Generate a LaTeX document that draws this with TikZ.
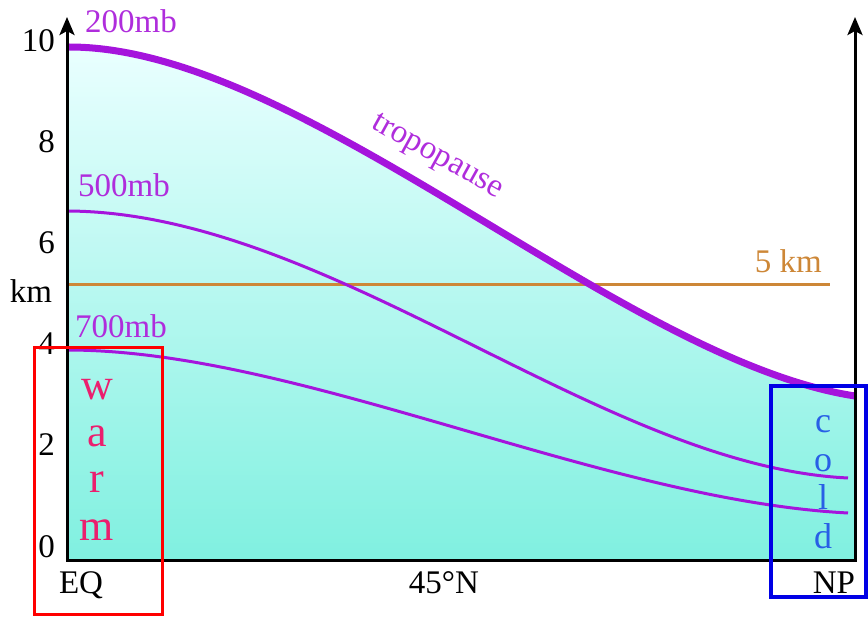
\documentclass[tikz,border=0pt]{standalone}
\usepackage{fontspec}
\setmainfont{Liberation Serif}
\usetikzlibrary{positioning,arrows.meta}
\definecolor{mbViolet}{RGB}{165,20,220}
\definecolor{mbText}{RGB}{175,45,220}
\definecolor{kmOrange}{RGB}{205,135,55}
\definecolor{warmPink}{RGB}{235,30,110}
\definecolor{coldBlue}{RGB}{40,95,230}
\definecolor{airLow}{RGB}{128,240,224}
\definecolor{airMid}{RGB}{196,252,248}
\definecolor{airHigh}{RGB}{234,255,255}

\begin{document}
\begin{tikzpicture}[x=1pt, y=-1pt,
        axisline/.style={line width=3pt},
        axisarrow/.style={line width=3pt, -{Stealth[length=18pt, width=15pt, inset=4pt]}},
        isobar/.style={draw=mbViolet, line width=3pt},
        tropo/.style={draw=mbViolet, line width=7pt},
        lbl/.style={font=\fontsize{33}{36}\selectfont, inner sep=0pt},
        tick/.style={lbl, anchor=base east},
        mblbl/.style={lbl, text=mbText, anchor=base west},
        warmtxt/.style={font=\fontsize{44}{48}\selectfont, text=warmPink, inner sep=0pt, anchor=base},
        coldtxt/.style={font=\fontsize{36}{40}\selectfont, text=coldBlue, inner sep=0pt, anchor=base}
    ]
        \useasboundingbox (0,0) rectangle (868,617);

        % air column under the tropopause
        \coordinate (eqTop) at (67,47);
        \coordinate (npTop) at (855,396);
        \shade[top color=airHigh, middle color=airMid, bottom color=airLow]
            (67,560) -- (eqTop) .. controls (300,45) and (620,360) .. (npTop) -- (855,560) -- cycle;

        % 5 km level
        \coordinate (fiveL) at (67,285);
        \coordinate (fiveR) at (830,285);
        \draw[kmOrange, line width=3pt] (fiveL) -- (fiveR);
        \node[lbl, text=kmOrange, anchor=base east] (fivekm) at (822,273) {5 km};

        % pressure surfaces
        \coordinate (eq700) at (67,350);
        \coordinate (np700) at (848,513);
        \coordinate (eq500) at (67,211);
        \coordinate (np500) at (848,478);
        \draw[isobar] (eq700) .. controls (300,350) and (600,500) .. (np700);
        \draw[isobar] (eq500) .. controls (330,212) and (600,466) .. (np500);
        \draw[tropo] (eqTop) .. controls (300,45) and (620,360) .. (npTop);

        \node[mblbl] (mb200) at (85,33) {200mb};
        \node[mblbl] (mb500) at (78,197) {500mb};
        \node[mblbl] (mb700) at (75,338) {700mb};
        \node[lbl, text=mbText, rotate=-29] (tropolbl) at (437,158) {tropopause};

        % axes
        \draw[axisline] (67,560) -- (855,560);
        \draw[axisarrow] (67,561.5) -- (67,17);
        \draw[axisarrow] (855,561.5) -- (855,17);

        \node[tick] (t10) at (55,52) {10};
        \node[tick] (t8) at (55,153) {8};
        \node[tick] (t6) at (55,254) {6};
        \node[tick] (t4) at (55,355) {4};
        \node[tick] (t2) at (55,456) {2};
        \node[tick] (t0) at (55,557) {0};
        \node[lbl, anchor=base] (km) at (31,303) {km};

        \node[lbl, anchor=base] (eq) at (81,593) {EQ};
        \node[lbl, anchor=base] (lat45) at (444,593) {45°N};
        \node[lbl, anchor=base] (np) at (834,593) {NP};

        % warm / cold columns
        \node[warmtxt] (w) at (97,400) {w};
        \node[warmtxt] (a) at (97,447) {a};
        \node[warmtxt] (r) at (97,493) {r};
        \node[warmtxt] (m) at (97,540) {m};
        \draw[red, line width=3pt] (34,348) rectangle (162,614);

        \node[coldtxt] (c) at (823,433) {c};
        \node[coldtxt] (o) at (823,472) {o};
        \node[coldtxt] (l) at (823,510) {l};
        \node[coldtxt] (d) at (823,548) {d};
        \draw[blue!90!black, line width=4pt] (771,386) rectangle (866,597);
    \end{tikzpicture}
\end{document}
